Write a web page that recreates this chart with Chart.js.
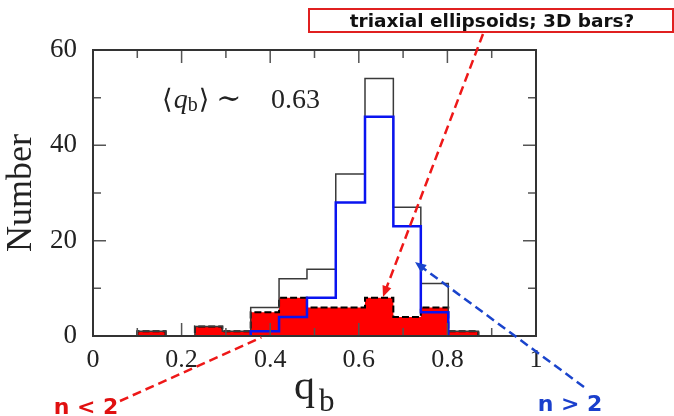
<!DOCTYPE html>
<html>
<head>
<meta charset="utf-8">
<script src="https://cdn.jsdelivr.net/npm/chart.js@4.4.1/dist/chart.umd.min.js"></script>
<style>
  html, body { margin: 0; padding: 0; background: #fff; }
  canvas { display: block; }
</style>
</head>
<body>
<canvas id="myChart" width="674" height="416"></canvas>
<script>
// histogram bins (q_b)
const binEdges = [0.100, 0.164, 0.230, 0.292, 0.356, 0.420, 0.483, 0.548, 0.614, 0.678, 0.740, 0.802, 0.870];
const allCounts = [1, 0, 2, 1, 6, 12, 14, 34, 54, 27, 11, 1];
const lowNCounts = [1, 0, 2, 1, 5, 8, 6, 6, 8, 4, 6, 1];   // n < 2
const highNCounts = [0, 0, 0, 0, 1, 4, 8, 28, 46, 23, 5, 0]; // n > 2
const xTickLabels = [0, 0.2, 0.4, 0.6, 0.8, 1];
const yTickLabels = [0, 20, 40, 60];

const serif = "'Liberation Serif', 'DejaVu Serif', serif";
const sans = "'DejaVu Sans', sans-serif";

// points for a stepped outline, starting and ending on the baseline
const stepPoints = (counts) => {
  const first = counts.findIndex((c) => c > 0);
  const last = counts.length - 1 - [...counts].reverse().findIndex((c) => c > 0);
  const pts = [{ x: binEdges[first], y: 0 }];
  for (let i = first; i <= last; i++) {
    pts.push({ x: binEdges[i], y: counts[i] });
  }
  pts.push({ x: binEdges[last + 1], y: 0 });
  return pts;
};

const dashedArrow = (ctx, x1, y1, x2, y2, color, dash, head) => {
  ctx.save();
  ctx.strokeStyle = color;
  ctx.fillStyle = color;
  ctx.lineWidth = 2.5;
  ctx.setLineDash(dash);
  const ang = Math.atan2(y2 - y1, x2 - x1);
  const hx = head ? x2 - Math.cos(ang) * 9 : x2;
  const hy = head ? y2 - Math.sin(ang) * 9 : y2;
  ctx.beginPath();
  ctx.moveTo(x1, y1);
  ctx.lineTo(hx, hy);
  ctx.stroke();
  if (head) {
    ctx.setLineDash([]);
    ctx.beginPath();
    ctx.moveTo(x2, y2);
    ctx.lineTo(x2 - Math.cos(ang - 0.4) * 12, y2 - Math.sin(ang - 0.4) * 12);
    ctx.lineTo(x2 - Math.cos(ang + 0.4) * 12, y2 - Math.sin(ang + 0.4) * 12);
    ctx.closePath();
    ctx.fill();
  }
  ctx.restore();
};

// frame and inward ticks on all four sides
const framePlugin = {
  id: 'frame',
  afterDatasetsDraw(chart) {
    const { ctx, chartArea: a, scales } = chart;
    const x = scales.x, y = scales.y;
    ctx.save();
    ctx.strokeStyle = '#555';
    ctx.lineWidth = 1.5;
    for (let k = 1; k < 10; k++) {
      const px = x.getPixelForValue(k / 10);
      const len = k % 2 === 0 ? 13 : 8;
      ctx.beginPath();
      ctx.moveTo(px, a.bottom); ctx.lineTo(px, a.bottom - len);
      ctx.moveTo(px, a.top); ctx.lineTo(px, a.top + len);
      ctx.stroke();
    }
    for (let v = 10; v < 60; v += 10) {
      const py = y.getPixelForValue(v);
      const len = v % 20 === 0 ? 13 : 8;
      ctx.beginPath();
      ctx.moveTo(a.left, py); ctx.lineTo(a.left + len, py);
      ctx.moveTo(a.right, py); ctx.lineTo(a.right - len, py);
      ctx.stroke();
    }
    ctx.strokeStyle = '#333';
    ctx.lineWidth = 2;
    ctx.strokeRect(a.left, a.top, a.right - a.left, a.bottom - a.top);
    ctx.restore();
  }
};

// texts and arrows
const notesPlugin = {
  id: 'notes',
  afterDraw(chart) {
    const { ctx, scales } = chart;
    const x = scales.x, y = scales.y;
    ctx.save();
    ctx.fillStyle = '#222';
    ctx.textBaseline = 'alphabetic';

    // mean value
    let px = x.getPixelForValue(0.156);
    const base = y.getPixelForValue(47.8);
    const put = (txt, font, dy) => {
      ctx.font = font;
      ctx.fillText(txt, px, base + (dy || 0));
      px += ctx.measureText(txt).width;
    };
    put('\u27E8', '27px ' + serif);
    px += 1;
    put('q', 'italic 28px ' + serif);
    put('b', '20px ' + serif, 3);
    px += 1;
    put('\u27E9', '27px ' + serif);
    px += 7;
    put('\u223C', '30px ' + serif);
    px = x.getPixelForValue(0.402);
    put('0.63', '28px ' + serif);

    // x title
    ctx.font = '42px ' + serif;
    ctx.fillText('q', 294, 399);
    ctx.font = '31px ' + serif;
    ctx.fillText('b', 319, 411);

    // box
    ctx.strokeStyle = '#e02020';
    ctx.lineWidth = 2;
    ctx.strokeRect(309, 9, 364, 23);
    ctx.fillStyle = '#111';
    ctx.font = 'bold 18.5px ' + sans;
    ctx.textAlign = 'center';
    ctx.fillText('triaxial ellipsoids; 3D bars?', 492, 27);

    ctx.font = 'bold 22px ' + sans;
    ctx.fillStyle = '#e01010';
    ctx.fillText('n < 2', 86, 414);
    ctx.fillStyle = '#1a3fcc';
    ctx.fillText('n > 2', 570, 411);
    ctx.restore();

    dashedArrow(ctx, 483, 34, x.getPixelForValue(0.6546), y.getPixelForValue(8.2), '#ee1818', [9, 5], true);
    dashedArrow(ctx, 120, 401, x.getPixelForValue(0.38), y.getPixelForValue(-0.3), '#ee1818', [9, 5], false);
    dashedArrow(ctx, 584, 387, x.getPixelForValue(0.7269), y.getPixelForValue(15.5), '#1a44cc', [9, 5], true);
  }
};

new Chart(document.getElementById('myChart').getContext('2d'), {
  type: 'line',
  data: {
    datasets: [
      {
        label: 'n > 2',
        data: stepPoints(highNCounts),
        stepped: 'before',
        borderColor: '#0a14f0',
        borderWidth: 2.5,
        fill: false,
        pointRadius: 0
      },
      {
        label: 'all',
        data: stepPoints(allCounts),
        stepped: 'before',
        borderColor: '#3a3a3a',
        borderWidth: 1.5,
        fill: false,
        pointRadius: 0
      },
      {
        label: 'n < 2',
        data: stepPoints(lowNCounts),
        stepped: 'before',
        borderColor: '#000',
        borderWidth: 2,
        borderDash: [7, 3],
        backgroundColor: '#ff0000',
        fill: 'origin',
        pointRadius: 0
      }
    ]
  },
  options: {
    responsive: false,
    animation: false,
    layout: { padding: { left: 0, right: 138, top: 50, bottom: 0 } },
    plugins: { legend: { display: false }, tooltip: { enabled: false } },
    scales: {
      x: {
        type: 'linear',
        min: 0,
        max: 1,
        grid: { display: false },
        border: { display: false },
        ticks: {
          stepSize: 0.1,
          padding: 1,
          maxRotation: 0,
          autoSkip: false,
          color: '#222',
          font: { family: serif, size: 26 },
          callback: (v) => {
            const r = Math.round(v * 10) / 10;
            return xTickLabels.includes(r) ? String(r) : '';
          }
        },
        afterFit: (scale) => { scale.height = 80; }
      },
      y: {
        min: 0,
        max: 60,
        grid: { display: false },
        border: { display: false },
        ticks: {
          stepSize: 10,
          padding: 8,
          autoSkip: false,
          color: '#222',
          font: { family: serif, size: 27 },
          callback: (v) => (yTickLabels.includes(v) ? String(v) : '')
        },
        title: {
          display: true,
          text: 'Number',
          color: '#222',
          font: { family: serif, size: 36 },
          padding: { top: 0, bottom: 0 }
        },
        afterFit: (scale) => { scale.width = 93; }
      }
    }
  },
  plugins: [framePlugin, notesPlugin]
});
</script>
</body>
</html>
